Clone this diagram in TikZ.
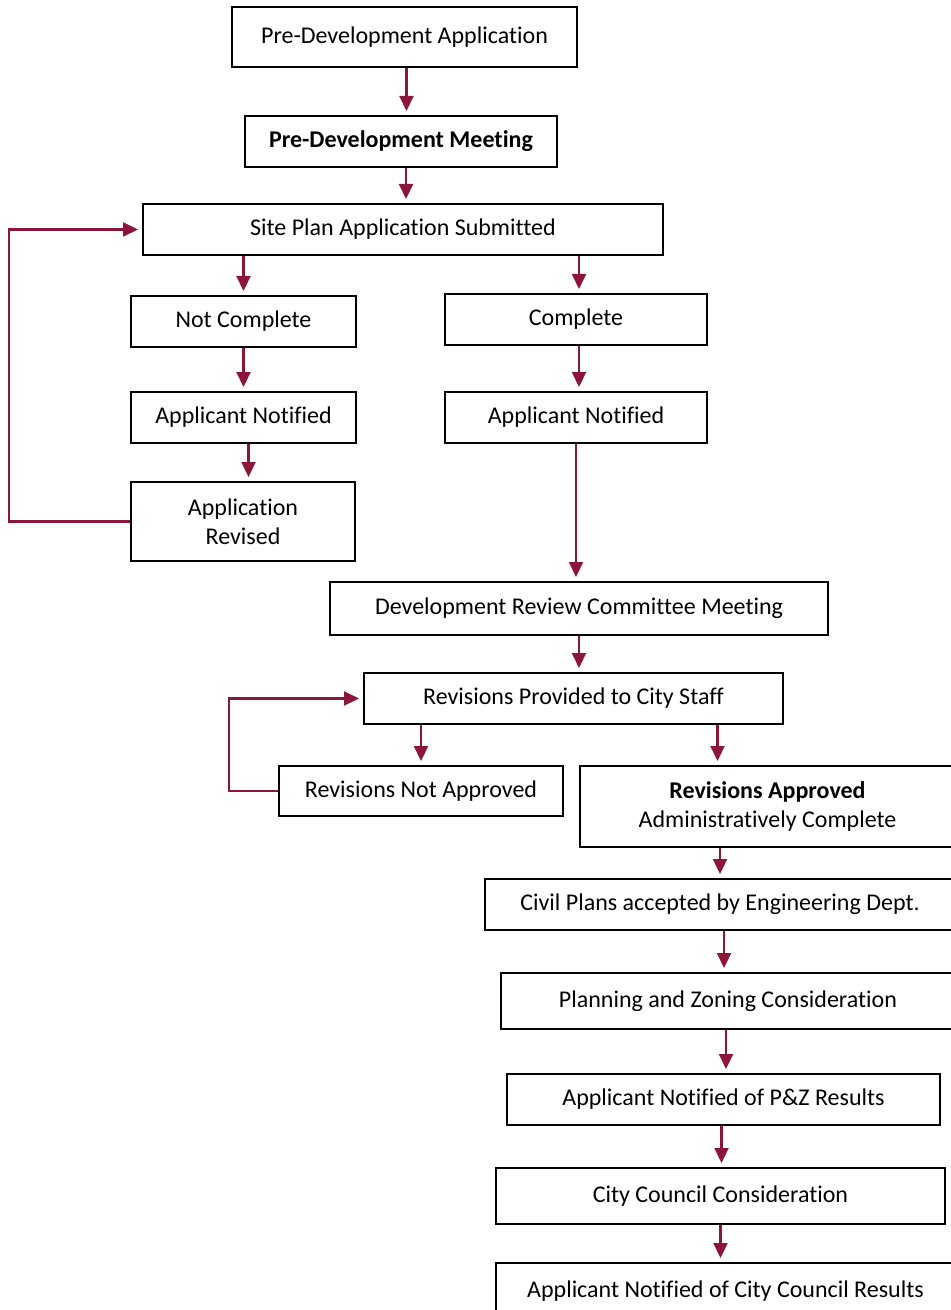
\documentclass[tikz,border=0pt]{standalone}
\usepackage{fontspec}
\setmainfont[Ligatures=NoCommon]{Carlito}
\usetikzlibrary{arrows.meta, positioning}
\definecolor{flowred}{RGB}{140,22,58}

\begin{document}
\begin{tikzpicture}[x=0.5pt,y=-0.5pt,
  box/.style={draw,line width=1pt,inner sep=2pt,align=center,font=\fontsize{12}{14.5}\selectfont},
  flow/.style={-{Triangle[width=7pt,length=7.5pt]},line width=1.1pt,flowred,shorten >=2pt}]
\useasboundingbox (0,0) rectangle (950,1310);

% Top of the process
\node[box,minimum width=172.5pt,minimum height=30pt] (preapp) at (404.5,37) {Pre-Development Application};
\node[box,minimum width=156pt,minimum height=25.5pt] (premeet) at (401,141.5) {\textbf{Pre-Development Meeting}};
\node[box,minimum width=260pt,minimum height=25.5pt] (submit) at (403,229.5) {Site Plan Application Submitted};

% Not complete branch
\node[box,minimum width=112.5pt,minimum height=25.5pt] (notcomp) at (243.5,321.5) {Not Complete};
\node[box,minimum width=112.5pt,minimum height=25.5pt] (notifyl) at (243.5,417.5) {Applicant Notified};
\node[box,minimum width=112pt,minimum height=39.5pt] (revised) at (243,521.5) {Application\\Revised};

% Complete branch
\node[box,minimum width=131pt,minimum height=25.5pt] (comp) at (576,319.5) {Complete};
\node[box,minimum width=131pt,minimum height=25.5pt] (notifyr) at (576,417.5) {Applicant Notified};

% Review
\node[box,minimum width=249pt,minimum height=26.5pt] (drc) at (579,608.5) {Development Review Committee Meeting};
\node[box,minimum width=209.5pt,minimum height=25.5pt] (provided) at (573.5,698.5) {Revisions Provided to City Staff};
\node[box,minimum width=142pt,minimum height=25pt] (notappr) at (421,791) {Revisions Not Approved};
\node[box,minimum width=187.5pt,minimum height=40.5pt] (appr) at (767.5,806.5) {\textbf{Revisions Approved}\\Administratively Complete};

% Final steps
\node[box,minimum width=235pt,minimum height=25.5pt] (civil) at (720,904.5) {Civil Plans accepted by Engineering Dept.};
\node[box,minimum width=227pt,minimum height=28pt] (pz) at (728,1001) {Planning and Zoning Consideration};
\node[box,minimum width=216.5pt,minimum height=25.5pt] (pznotify) at (723.5,1099.5) {Applicant Notified of P\&Z Results};
\node[box,minimum width=224.5pt,minimum height=28pt] (council) at (720.5,1196) {City Council Consideration};
\node[box,minimum width=229.5pt,minimum height=28.5pt] (ccnotify) at (725.5,1291.5) {Applicant Notified of City Council Results};

% Arrows
\draw[flow] ([xshift=1pt]preapp.south) -- ([xshift=1pt]preapp.south |- premeet.north);
\draw[flow] ([xshift=2.5pt]premeet.south) -- ([xshift=2.5pt]premeet.south |- submit.north);
\draw[flow] (notcomp.north |- submit.south) -- (notcomp.north);
\draw[flow] ([xshift=1.5pt]comp.north |- submit.south) -- ([xshift=1.5pt]comp.north);
\draw[flow] (notcomp.south) -- (notifyl.north);
\draw[flow] ([xshift=1.5pt]comp.south) -- ([xshift=1.5pt]notifyr.north);
\draw[flow] ([xshift=2.5pt]notifyl.south) -- ([xshift=2.5pt]notifyl.south |- revised.north);
\draw[flow] (notifyr.south) -- (notifyr.south |- drc.north);
\draw[flow] (drc.south) -- (drc.south |- provided.north);
\draw[flow] (notappr.north |- provided.south) -- (notappr.north);
\draw[flow] ([xshift=-25pt]appr.north |- provided.south) -- ([xshift=-25pt]appr.north);
\draw[flow] (civil.north |- appr.south) -- (civil.north);
\draw[flow] ([xshift=-2pt]pz.north |- civil.south) -- ([xshift=-2pt]pz.north);
\draw[flow] ([xshift=-1pt]pz.south) -- ([xshift=-1pt]pz.south |- pznotify.north);
\draw[flow] ([xshift=-1pt]pznotify.south) -- ([xshift=-1pt]pznotify.south |- council.north);
\draw[flow] (council.south) -- (council.south |- ccnotify.north);

% Loops back
\draw[flow] (revised.west) -- ++(-121,0) |- (submit.west);
\draw[flow] (notappr.west) -- ++(-49,0) |- (provided.west);
\end{tikzpicture}
\end{document}
